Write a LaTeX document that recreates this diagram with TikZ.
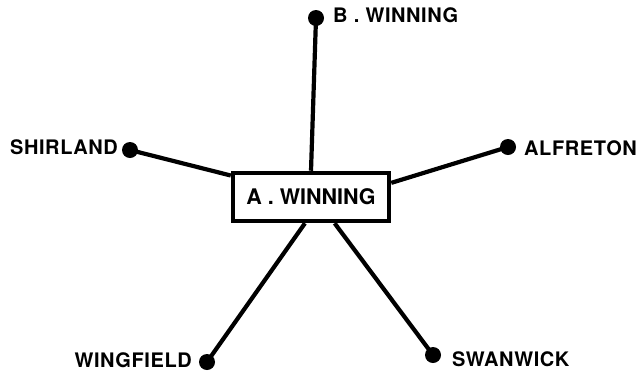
\documentclass[tikz,border=0pt]{standalone}
\usepackage{fontspec}
\setmainfont{TeX Gyre Heros}
\newfontfamily\labfont[LetterSpace=3]{TeX Gyre Heros}
\newfontfamily\boxfont{TeX Gyre Heros}
\begin{document}
\begin{tikzpicture}[x=1pt,y=-1pt,
  stop/.style={circle,fill=black,inner sep=0pt,minimum size=16pt},
  lab/.style={inner sep=0pt,font=\labfont\bfseries\fontsize{20}{22}\selectfont},
  mainbox/.style={draw=black,line width=4.5pt,fill=white,minimum width=156pt,minimum height=48pt,inner sep=0pt,font=\boxfont\bfseries\fontsize{21.5}{23}\selectfont},
  link/.style={line width=4.2pt}]
\useasboundingbox (0,0) rectangle (642,376);
\node[mainbox] (box) at (311,197) {A . WINNING};
\node[stop] (b) at (316,18) {};
\node[stop] (sh) at (130,150) {};
\node[stop] (al) at (508,147) {};
\node[stop] (wi) at (207,362) {};
\node[stop] (sw) at (433,355) {};
\node[lab,anchor=west] (lb) at (333,15) {B . WINNING};
\node[lab,anchor=east] (lsh) at (118,147) {SHIRLAND};
\node[lab,anchor=west] (lal) at (524,148) {ALFRETON};
\node[lab,anchor=east] (lwi) at (192,360) {WINGFIELD};
\node[lab,anchor=west] (lsw) at (452,359) {SWANWICK};
\draw[link] (b.center) -- (box.north);
\draw[link] (sh.center) -- (box.165);
\draw[link] (al.center) -- (box.10);
\draw[link] (wi.center) -- (box.-103);
\draw[link] (sw.center) -- (box.-48);
\end{tikzpicture}
\end{document}
